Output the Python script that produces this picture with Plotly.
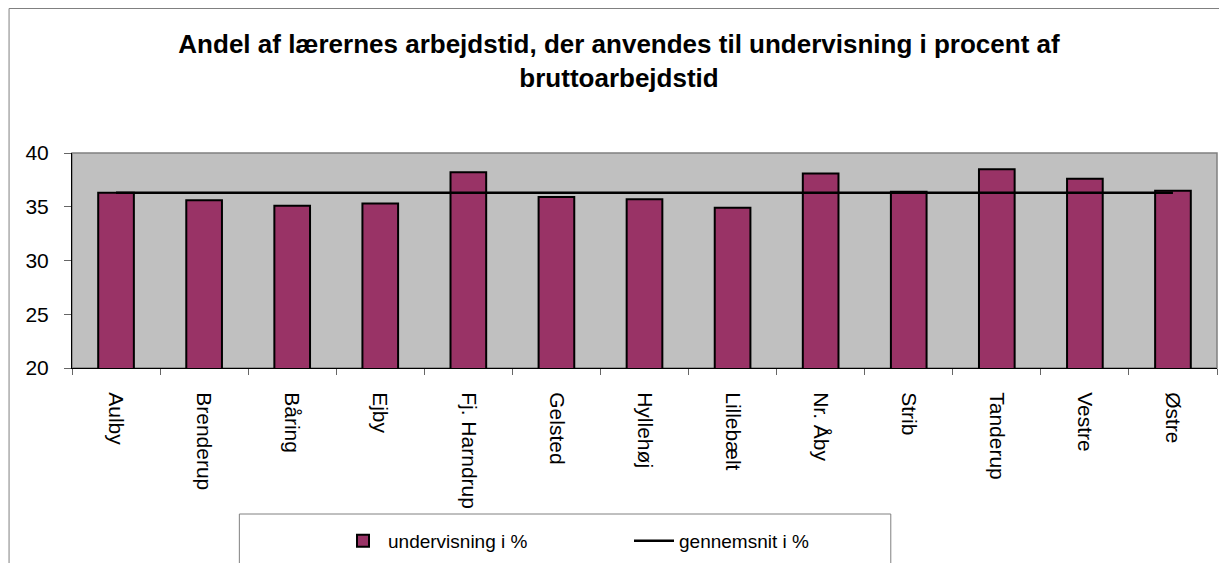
import plotly.graph_objects as go

# --- Data ---
skoler = ["Aulby", "Brenderup", "Båring", "Ejby", "Fj. Harndrup", "Gelsted", "Hyllehøj",
          "Lillebælt", "Nr. Åby", "Strib", "Tanderup", "Vestre", "Østre"]
undervisning = [36.3, 35.6, 35.1, 35.3, 38.2, 35.9, 35.7, 34.9, 38.1, 36.4, 38.5, 37.6, 36.5]
gennemsnit = [36.3] * len(skoler)

# --- Layout in pixels (screen coords; page body has an 8px margin) ---
W, H = 1227, 563
OFF = 8
L, R, T, B = 71.5 - OFF, 1217.5 - OFF, 153 - OFF, 368 - OFF
pw, ph = R - L, B - T


def px(x):
    return (x - OFF - L) / pw


def py(y):
    return (B - (y - OFF)) / ph


FONT = "Liberation Sans, Arial, sans-serif"

fig = go.Figure()
fig.add_trace(go.Bar(
    x=skoler, y=undervisning, name="undervisning i %",
    marker=dict(color="#993366", line=dict(color="black", width=2)),
))
fig.add_trace(go.Scatter(
    x=skoler, y=gennemsnit, name="gennemsnit i %", mode="lines",
    line=dict(color="black", width=2.5),
))

fig.update_layout(
    width=W, height=H,
    margin=dict(l=L, r=W - R, t=T, b=H - B, autoexpand=False),
    paper_bgcolor="white",
    plot_bgcolor="#C0C0C0",
    bargap=0.595,
    font=dict(family=FONT, size=20, color="black"),
    title=dict(
        text="<b>Andel af lærernes arbejdstid, der anvendes til undervisning i procent af"
             "<br>bruttoarbejdstid</b>",
        x=px(619), xref="paper", xanchor="center",
        y=1 - (53 - OFF) / H, yanchor="middle",
        font=dict(family=FONT, size=26, color="black"),
    ),
    showlegend=True,
    legend=dict(
        orientation="h",
        xref="container", yref="container",
        x=(338 - OFF) / W, xanchor="left",
        y=1 - (522 - OFF) / H, yanchor="top",
        bgcolor="rgba(0,0,0,0)",
        entrywidth=236, entrywidthmode="pixels",
        font=dict(family=FONT, size=19, color="black"),
        itemwidth=40,
    ),
)

fig.update_yaxes(
    range=[20, 40], tickvals=[20, 25, 30, 35, 40],
    showgrid=False, zeroline=False, automargin=False,
    showline=True, linecolor="black", linewidth=1,
    ticks="outside", ticklen=7, tickcolor="#666",
    ticklabelstandoff=11,
    tickfont=dict(family=FONT, size=21),
)
fig.update_xaxes(
    showgrid=False, tickson="boundaries", automargin=False,
    showline=True, linecolor="black", linewidth=1,
    ticks="outside", ticklen=6, tickcolor="#666",
    tickangle=90, ticklabelstandoff=19,
    tickfont=dict(family=FONT, size=21),
)

# plot-area border (top/right grey), outer chart border, legend box
fig.add_shape(type="rect", xref="paper", yref="paper", x0=0, y0=0, x1=1, y1=1,
              line=dict(color="#808080", width=1.5), layer="below")
fig.add_shape(type="rect", xref="paper", yref="paper",
              x0=px(OFF + 0.5), y0=py(OFF + 0.5), x1=px(1260), y1=py(640),
              line=dict(color="#808080", width=1))
fig.add_shape(type="rect", xref="paper", yref="paper",
              x0=px(239), y0=py(514), x1=px(891), y1=py(640),
              line=dict(color="#808080", width=1))

fig.write_html("out.html")
